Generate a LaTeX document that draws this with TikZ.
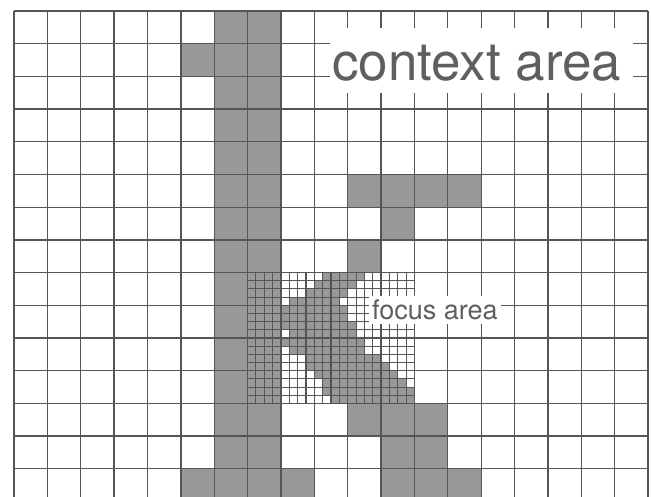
\documentclass[tikz,border=0pt]{standalone}
\usepackage{fontspec}
\setmainfont{TeX Gyre Heros}
\definecolor{cellgray}{RGB}{152,152,152}
\definecolor{linegray}{RGB}{85,85,85}
\definecolor{labelgray}{RGB}{95,95,95}
\begin{document}
\begin{tikzpicture}[x=1pt,y=-1pt,
  coarse/.style={draw=linegray,line width=1.3pt},
  fine/.style={draw=linegray,line width=1.05pt},
  darkcell/.style={fill=cellgray},
  labelbox/.style={fill=white},
  labeltext/.style={anchor=base west,inner sep=0pt,text=labelgray}]
\useasboundingbox (0,0) rectangle (651,496);
\clip (0,0) rectangle (651,496);
\fill[white] (0,0) rectangle (651,496);
\def\ox{14}\def\oy{11}\def\cw{33.37}\def\ch{32.7}
% coarse grey cells
\foreach \c/\r in {6/0,7/0, 5/1,6/1,7/1, 6/2,7/2, 6/3,7/3, 6/4,7/4,
  6/5,7/5,10/5,11/5,12/5,13/5, 6/6,7/6,11/6, 6/7,7/7,10/7,
  6/8,6/9,6/10,6/11,
  6/12,7/12,10/12,11/12,12/12, 6/13,7/13,11/13,12/13,
  5/14,6/14,7/14,8/14,11/14,12/14,13/14}
  \fill[darkcell] ({\ox+\c*\cw},{\oy+\r*\ch}) rectangle ++(\cw,\ch);
% focus area (fine grid): origin (247.59, 272.6), fine cell 8.3425 x 8.175
\fill[darkcell] (247.59,272.6) rectangle (280.96,403.4);
\foreach \j/\p/\q in {0/9/13,1/8/12,2/7/11,3/5/10,4/4/11,5/4/11,6/4/12,7/5/12,
  8/4/13,9/5/13,10/7/15,11/7/16,12/8/17,13/9/18,14/9/19,15/10/19}
  \fill[darkcell] ({247.59+\p*8.3425},{272.6+\j*8.175}) rectangle ({247.59+(\q+1)*8.3425},{272.6+(\j+1)*8.175});
\foreach \i in {0,...,20}
  \draw[fine] ({247.59+\i*8.3425},272.6) -- ({247.59+\i*8.3425},403.4);
\foreach \j in {0,...,16}
  \draw[fine] (247.59,{272.6+\j*8.175}) -- (414.44,{272.6+\j*8.175});
% coarse grid
\foreach \i in {0,...,19}
  \draw[coarse] ({\ox+\i*\cw},\oy) -- ({\ox+\i*\cw},500);
\foreach \j in {0,...,15}
  \draw[coarse] (\ox,{\oy+\j*\ch}) -- ({\ox+19*\cw},{\oy+\j*\ch});
% labels
\fill[labelbox] (330,28) rectangle (633,93);
\node[labeltext,font=\fontsize{53}{60}\selectfont] (ctx) at (332,80) {context area};
\fill[labelbox] (369,296) rectangle (501,324);
\node[labeltext,font=\fontsize{27}{30}\selectfont] (foc) at (372,319) {focus area};
\end{tikzpicture}
\end{document}
